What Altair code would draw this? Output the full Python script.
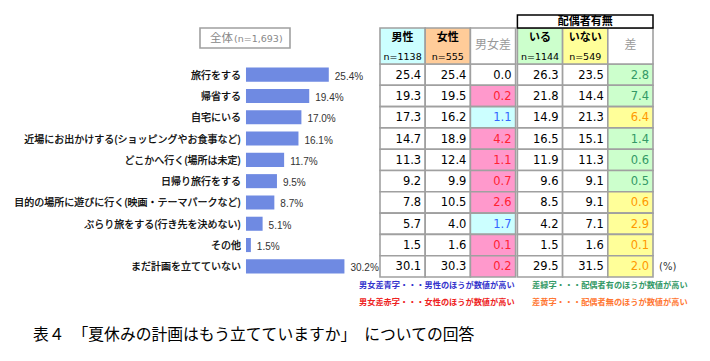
import altair as alt
import pandas as pd

# ---------------- data ----------------
categories = [
    "旅行をする", "帰省する", "自宅にいる",
    "近場にお出かけする(ショッピングやお食事など)",
    "どこかへ行く(場所は未定)", "日帰り旅行をする",
    "目的の場所に遊びに行く(映画・テーマパークなど)",
    "ぶらり旅をする(行き先を決めない)", "その他", "まだ計画を立てていない",
]
overall = [25.4, 19.4, 17.0, 16.1, 11.7, 9.5, 8.7, 5.1, 1.5, 30.2]
male = [25.4, 19.3, 17.3, 14.7, 11.3, 9.2, 7.8, 5.7, 1.5, 30.1]
female = [25.4, 19.5, 16.2, 18.9, 12.4, 9.9, 10.5, 4.0, 1.6, 30.3]
gender_diff = [0.0, 0.2, 1.1, 4.2, 1.1, 0.7, 2.6, 1.7, 0.1, 0.2]
married = [26.3, 21.8, 14.9, 16.5, 11.9, 9.6, 8.5, 4.2, 1.5, 29.5]
unmarried = [23.5, 14.4, 21.3, 15.1, 11.3, 9.1, 9.1, 7.1, 1.6, 31.5]
marital_diff = [2.8, 7.4, 6.4, 1.4, 0.6, 0.5, 0.6, 2.9, 0.1, 2.0]

header_titles = ["男性", "女性", "男女差", "いる", "いない", "差"]
header_n = ["n=1138", "n=555", "", "n=1144", "n=549", ""]
overall_label = "全体"
overall_n = "(n=1,693)"
group_label = "配偶者有無"
unit_label = "(%)"
notes = [
    "男女差青字・・・男性のほうが数値が高い",
    "男女差赤字・・・女性のほうが数値が高い",
    "差緑字・・・配偶者有のほうが数値が高い",
    "差黄字・・・配偶者無のほうが数値が高い",
]
title_text = "表４　「夏休みの計画はもう立てていますか」　についての回答"

# ---------------- styling helpers ----------------
JP = "Noto Sans CJK JP"
NUM = "DejaVu Sans"
GAP = 0.04  # double-line gap between the two column groups
GRID = "#a0a0a0"

W, H = 694, 345
ys = alt.Scale(domain=[-3.129, 13.068], reverse=True, nice=False, zero=False)
xs_bar = alt.Scale(domain=[-73.0, 139.88], nice=False, zero=False)
xs_tab = alt.Scale(domain=[-8.23, 7.124], nice=False, zero=False)


def col_left(c):
    return c + (GAP if c >= 3 else 0.0)


# bars dataframe
bars = pd.DataFrame({
    "cat": categories,
    "val": overall,
    "r": list(range(len(categories))),
})
bars["zero"] = 0.0
bars["y0"] = bars["r"] - 0.33
bars["y1"] = bars["r"] + 0.33
bars["lab"] = [f"{v:.1f}%" for v in overall]

# table dataframe
cols = [male, female, gender_diff, married, unmarried, marital_diff]
rows = []
for r in range(len(categories)):
    for c, series in enumerate(cols):
        fill, tcol = "#ffffff", "#000000"
        if c == 2:
            if male[r] > female[r]:
                fill, tcol = "#ccffff", "#3366ff"
            elif female[r] > male[r]:
                fill, tcol = "#ff99cc", "#ff2233"
        if c == 5:
            if married[r] > unmarried[r]:
                fill, tcol = "#ccffcc", "#339966"
            else:
                fill, tcol = "#ffff99", "#ff9900"
        rows.append({
            "r": r, "x0": col_left(c), "x1": col_left(c) + 1,
            "y0": r - 0.5, "y1": r + 0.5,
            "txt": f"{series[r]:.1f}", "fill": fill, "tcol": tcol,
        })
table = pd.DataFrame(rows)

hdr_fill = ["#ccffff", "#ffcc99", "#ffffff", "#ccffcc", "#ffff99", "#ffffff"]
hdr = pd.DataFrame({
    "t": header_titles, "n": header_n, "fill": hdr_fill,
    "x0": [col_left(c) for c in range(6)],
    "x1": [col_left(c) + 1 for c in range(6)],
    "xc": [col_left(c) + 0.5 for c in range(6)],
})
hdr["y0"] = -2.19
hdr["y1"] = -0.5
hdr_main = hdr[hdr["n"] != ""]
hdr_gray = hdr[hdr["n"] == ""]

grp = pd.DataFrame({"t": [group_label], "x0": [col_left(3)], "x1": [col_left(5) + 1],
                    "xc": [(col_left(3) + col_left(5) + 1) / 2],
                    "y0": [-2.80], "y1": [-2.19], "yc": [-2.50]})
unit = pd.DataFrame({"t": [unit_label], "x": [col_left(5) + 1], "r": [9]})

# ---------------- layers: bar side ----------------
base_b = alt.Chart(bars)
bar_rect = base_b.mark_rect(color="#6f8ae2").encode(
    x=alt.X("zero:Q", scale=xs_bar, axis=None),
    x2="val:Q",
    y=alt.Y("y0:Q", scale=ys, axis=None),
    y2="y1:Q",
)
bar_text = base_b.mark_text(align="left", baseline="middle", dx=6, dy=2,
                            font="Liberation Sans", fontSize=10, color="#333333").encode(
    x=alt.X("val:Q", scale=xs_bar, axis=None),
    y=alt.Y("r:Q", scale=ys, axis=None),
    text="lab:N",
)
cat_text = base_b.mark_text(align="right", baseline="middle", dx=-5, dy=1,
                            font=JP, fontSize=10, color="#000000",
                            stroke="#000000", strokeWidth=0.25).encode(
    x=alt.X("zero:Q", scale=xs_bar, axis=None),
    y=alt.Y("r:Q", scale=ys, axis=None),
    text="cat:N",
)
left = alt.layer(bar_rect, bar_text, cat_text)

# ---------------- layers: table side ----------------
base_t = alt.Chart(table)
cell = base_t.mark_rect(stroke=GRID, strokeWidth=1.6).encode(
    x=alt.X("x0:Q", scale=xs_tab, axis=None), x2="x1:Q",
    y=alt.Y("y0:Q", scale=ys, axis=None), y2="y1:Q",
    fill=alt.Fill("fill:N", scale=None),
)
cell_text = base_t.mark_text(align="right", baseline="middle", dx=-4, dy=1,
                             font=NUM, fontSize=11.5).encode(
    x=alt.X("x1:Q", scale=xs_tab, axis=None),
    y=alt.Y("r:Q", scale=ys, axis=None),
    text="txt:N",
    color=alt.Color("tcol:N", scale=None),
)
hcell = alt.Chart(hdr).mark_rect(stroke=GRID, strokeWidth=1.6).encode(
    x=alt.X("x0:Q", scale=xs_tab, axis=None), x2="x1:Q",
    y=alt.Y("y0:Q", scale=ys, axis=None), y2="y1:Q",
    fill=alt.Fill("fill:N", scale=None),
)
htitle = alt.Chart(hdr_main).transform_calculate(yy="-1.70").mark_text(
    align="center", baseline="middle", font=JP, fontSize=11, fontWeight="bold", color="#000000"
).encode(
    x=alt.X("xc:Q", scale=xs_tab, axis=None),
    y=alt.Y("yy:Q", scale=ys, axis=None),
    text="t:N",
)
hn = alt.Chart(hdr_main).transform_calculate(yy="-0.83").mark_text(
    align="center", baseline="middle", font=NUM, fontSize=9.5, color="#000000"
).encode(
    x=alt.X("xc:Q", scale=xs_tab, axis=None),
    y=alt.Y("yy:Q", scale=ys, axis=None),
    text="n:N",
)
hgray = alt.Chart(hdr_gray).transform_calculate(yy="-1.37").mark_text(
    align="center", baseline="middle", font=JP, fontSize=12, color="#999999"
).encode(
    x=alt.X("xc:Q", scale=xs_tab, axis=None),
    y=alt.Y("yy:Q", scale=ys, axis=None),
    text="t:N",
)
gbox = alt.Chart(grp).mark_rect(fill="#ffffff", stroke="#000000", strokeWidth=1.5).encode(
    x=alt.X("x0:Q", scale=xs_tab, axis=None), x2="x1:Q",
    y=alt.Y("y0:Q", scale=ys, axis=None), y2="y1:Q",
)
gtext = alt.Chart(grp).mark_text(align="center", baseline="middle", font=JP, fontSize=11,
                                 fontWeight="bold", color="#000000", dy=1).encode(
    x=alt.X("xc:Q", scale=xs_tab, axis=None),
    y=alt.Y("yc:Q", scale=ys, axis=None),
    text="t:N",
)
utext = alt.Chart(unit).mark_text(align="left", baseline="middle", dx=6, dy=1,
                                  font=NUM, fontSize=10, color="#333333").encode(
    x=alt.X("x:Q", scale=xs_tab, axis=None),
    y=alt.Y("r:Q", scale=ys, axis=None),
    text="t:N",
)
right = alt.layer(cell, hcell, cell_text, htitle, hn, hgray, gbox, gtext, utext)

# ---------------- free annotations ----------------
ann = pd.DataFrame({"k": [0]})
obox = alt.Chart(ann).mark_rect(fill="#ffffff", stroke="#a0a0a0", strokeWidth=1.6).encode(
    x=alt.value(192), x2=alt.value(282), y=alt.value(20), y2=alt.value(40))
olab = alt.Chart(ann).mark_text(align="left", baseline="middle", font=JP, fontSize=11.5,
                                color="#888888").encode(
    x=alt.value(202), y=alt.value(31), text=alt.datum(overall_label))
onum = alt.Chart(ann).mark_text(align="left", baseline="middle", font=NUM, fontSize=9.5,
                                color="#888888").encode(
    x=alt.value(226), y=alt.value(31), text=alt.datum(overall_n))

note_colors = ["#3333cc", "#ee2222", "#339966", "#ff7733"]
note_x = [351, 351, 524, 524]
note_y = [278, 295, 278, 295]
note_layers = []
for t, col, nx, ny in zip(notes, note_colors, note_x, note_y):
    note_layers.append(
        alt.Chart(ann).mark_text(align="left", baseline="middle", font=JP, fontSize=8.2,
                                 fontWeight="bold", color=col).encode(
            x=alt.value(nx), y=alt.value(ny), text=alt.datum(t))
    )
ttl = alt.Chart(ann).mark_text(align="left", baseline="middle", font=JP, fontSize=15.8,
                               color="#000000").encode(
    x=alt.value(25), y=alt.value(327), text=alt.datum(title_text))

deco = alt.layer(obox, olab, onum, *note_layers, ttl)

chart = alt.layer(left, right, deco).resolve_scale(x="independent").properties(
    width=W, height=H, padding=0, autosize=alt.AutoSizeParams(type="none"),
    background="#ffffff",
).configure_view(stroke=None)

chart.save("out.html", embed_options={"renderer": "svg", "actions": False})
